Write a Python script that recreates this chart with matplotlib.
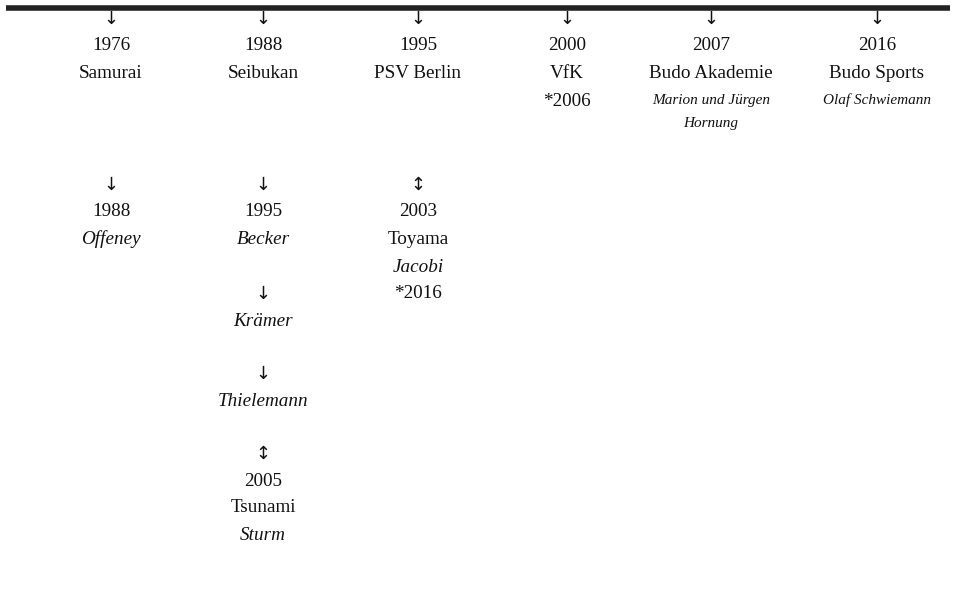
import matplotlib
matplotlib.use("Agg")
import matplotlib.pyplot as plt

plt.rcParams['font.family'] = ['Liberation Serif', 'DejaVu Serif']

# Column contents: (text, style) ; style: 'n' normal, 'i' italic, 's' small italic,
# 'a' arrow ; None = blank row
col_1976 = [("↓", "a"), ("1976", "n"), ("Samurai", "n"), None, None, None,
            ("↓", "a"), ("1988", "n"), ("Offeney", "i")]
col_1988 = [("↓", "a"), ("1988", "n"), ("Seibukan", "n"), None, None, None,
            ("↓", "a"), ("1995", "n"), ("Becker", "i"), None,
            ("↓", "a"), ("Krämer", "i"), None,
            ("↓", "a"), ("Thielemann", "i"), None,
            ("↕", "a"), ("2005", "n"), ("Tsunami", "n"), ("Sturm", "i")]
col_1995 = [("↓", "a"), ("1995", "n"), ("PSV Berlin", "n"), None, None, None,
            ("↕", "a"), ("2003", "n"), ("Toyama", "n"), ("Jacobi", "i"), ("*2016", "n")]
col_2000 = [("↓", "a"), ("2000", "n"), ("VfK", "n"), ("*2006", "n")]
col_2007 = [("↓", "a"), ("2007", "n"), ("Budo Akademie", "n"),
            ("Marion und Jürgen", "s"), ("Hornung", "s")]
col_2016 = [("↓", "a"), ("2016", "n"), ("Budo Sports", "n"), ("Olaf Schwiemann", "s")]

columns = [col_1976, col_1988, col_1995, col_2000, col_2007, col_2016]

# layout (pixel space): row_y = text line centre (cap-height middle)
W, H = 956, 602
col_x = [111, 263, 418, 567, 711, 877]
row_y = [17, 44, 72, 99, 122, 152, 183, 210, 238, 265, 292, 319, 345, 372, 399, 425, 452, 479, 506, 533]
line_y = 8

fig = plt.figure(figsize=(W / 100, H / 100), dpi=100)
ax = fig.add_axes([0, 0, 1, 1])
ax.set_xlim(0, W)
ax.set_ylim(H, 0)
ax.axis('off')

ax.plot([6, 950], [line_y, line_y], color='#222222', lw=4.0, solid_capstyle='butt')

styles = {
    "n": dict(fontsize=13.8, style='normal'),
    "i": dict(fontsize=13.8, style='italic'),
    "s": dict(fontsize=11, style='italic'),
    "a": dict(fontsize=13, style='normal', family=['DejaVu Sans']),
}
baseline_off = {"n": 6.5, "i": 6.5, "s": 5.0, "a": 6.5}

for x, col in zip(col_x, columns):
    for r, item in enumerate(col):
        if item is None:
            continue
        txt, st = item
        ax.text(x, row_y[r] + baseline_off[st], txt, ha='center', va='baseline',
                color='#111111', **styles[st])

fig.savefig("out.png", dpi=100)
